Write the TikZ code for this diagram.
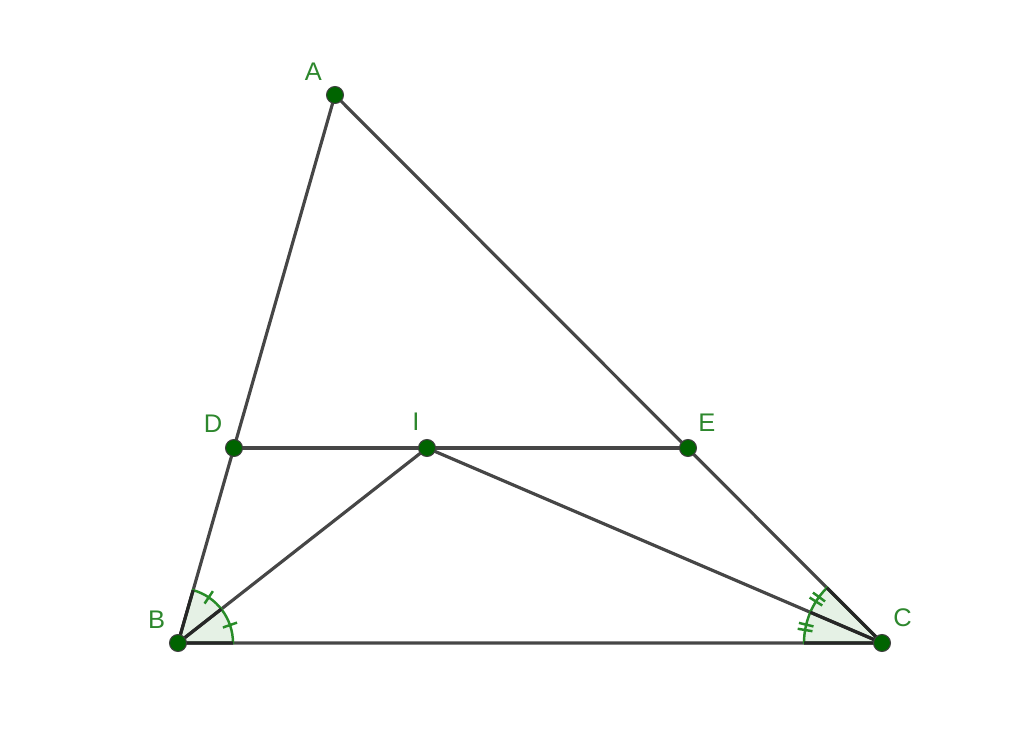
\documentclass[tikz,border=0pt]{standalone}
\usepackage{fontspec}
\setsansfont{Liberation Sans}
\usetikzlibrary{calc,backgrounds}
\definecolor{ptgreen}{RGB}{0,100,0}
\definecolor{lblgreen}{RGB}{45,135,45}
\definecolor{seggray}{RGB}{70,70,70}
\definecolor{arcgreen}{RGB}{40,140,40}

\begin{document}
\begin{tikzpicture}[
        font=\sffamily\fontsize{14.5}{16}\selectfont,
        pt/.style={circle, fill=ptgreen, draw=black!75, line width=0.6pt, inner sep=0pt, outer sep=0pt, minimum size=0.34cm},
        lbl/.style={text=lblgreen, inner sep=0pt, label distance=0.21cm},
        seg/.style={draw=seggray, line width=1.8pt},
        sector/.style={fill=arcgreen, fill opacity=0.12},
        ray/.style={draw=black!85, line width=1.8pt},
        arcmark/.style={draw=arcgreen, line width=1.4pt}
    ]
    \useasboundingbox (0,0) rectangle (20.48,15);

    % points of the triangle
    \node[pt, label={[lbl]132:A}] (A) at (6.70,13.10) {};
    \node[pt, label={[lbl]131:B}] (B) at (3.56,2.14) {};
    \node[pt, label={[lbl]55:C}] (C) at (17.64,2.14) {};
    \node[pt, label={[lbl]127:D}] (D) at (4.68,6.04) {};
    \node[pt, label={[lbl]112:I}] (I) at (8.54,6.04) {};
    \node[pt, label={[lbl]58:E}] (E) at (13.76,6.04) {};

    \begin{scope}[on background layer]
    \draw[seg] (A.center) -- (B.center) -- (C.center) -- cycle;
    \draw[seg] (D.center) -- (I.center) -- (E.center);
    \draw[seg] (B.center) -- (I.center) -- (C.center);

    % angle at B, cut in two by BI
    \path let \p1=($(A.center)-(B.center)$), \n1={atan2(\y1,\x1)},
              \p2=($(I.center)-(B.center)$), \n2={atan2(\y2,\x2)} in
        [sector] (B.center) -- ++(0:1.1) arc[start angle=0, end angle=\n1, radius=1.1] -- cycle
        [arcmark] ($(B.center)+(0:1.1)$) arc[start angle=0, end angle=\n1, radius=1.1]
        [arcmark] ($(B.center)+({\n2/2}:0.95)$) -- ($(B.center)+({\n2/2}:1.25)$)
        [arcmark] ($(B.center)+({(\n1+\n2)/2}:0.95)$) -- ($(B.center)+({(\n1+\n2)/2}:1.25)$);
    \path let \p1=($(A.center)-(B.center)$), \n1={atan2(\y1,\x1)},
              \p2=($(I.center)-(B.center)$), \n2={atan2(\y2,\x2)} in
        [ray] ($(B.center)+(0:1.1)$) -- (B.center) -- ($(B.center)+(\n1:1.1)$)
        (B.center) -- ($(B.center)+(\n2:1.1)$);

    % angle at C, cut in two by CI
    \path let \p1=($(A.center)-(C.center)$), \n1={atan2(\y1,\x1)},
              \p2=($(I.center)-(C.center)$), \n2={atan2(\y2,\x2)} in
        [sector] (C.center) -- ++(\n1:1.56) arc[start angle=\n1, end angle=180, radius=1.56] -- cycle
        [arcmark] ($(C.center)+(\n1:1.56)$) arc[start angle=\n1, end angle=180, radius=1.56]
        [arcmark] ($(C.center)+({(\n1+\n2)/2-2}:1.41)$) -- ($(C.center)+({(\n1+\n2)/2-2}:1.71)$)
                  ($(C.center)+({(\n1+\n2)/2+2}:1.41)$) -- ($(C.center)+({(\n1+\n2)/2+2}:1.71)$)
        [arcmark] ($(C.center)+({(\n2+180)/2-2}:1.41)$) -- ($(C.center)+({(\n2+180)/2-2}:1.71)$)
                  ($(C.center)+({(\n2+180)/2+2}:1.41)$) -- ($(C.center)+({(\n2+180)/2+2}:1.71)$);
    \path let \p1=($(A.center)-(C.center)$), \n1={atan2(\y1,\x1)},
              \p2=($(I.center)-(C.center)$), \n2={atan2(\y2,\x2)} in
        [ray] ($(C.center)+(180:1.56)$) -- (C.center) -- ($(C.center)+(\n1:1.56)$)
        (C.center) -- ($(C.center)+(\n2:1.56)$);
    \end{scope}

\end{tikzpicture}
\end{document}
